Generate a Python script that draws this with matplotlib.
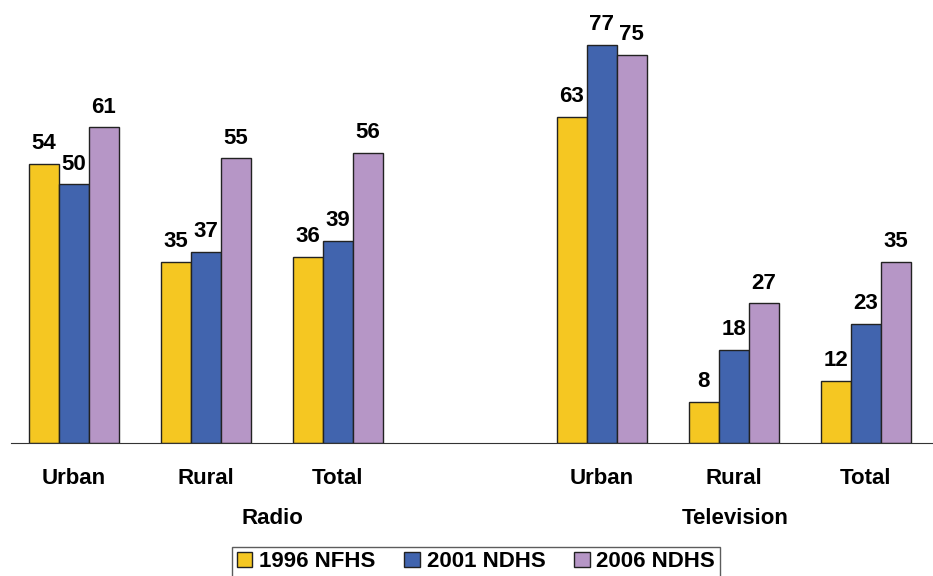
import numpy as np
import matplotlib.pyplot as plt

plt.rcParams['font.family'] = ['Liberation Sans', 'DejaVu Sans']
plt.rcParams['font.weight'] = 'bold'

groups = ['Urban', 'Rural', 'Total', 'Urban', 'Rural', 'Total']
series = ['1996 NFHS', '2001 NDHS', '2006 NDHS']
nfhs_1996 = [54, 35, 36, 63, 8, 12]
ndhs_2001 = [50, 37, 39, 77, 18, 23]
ndhs_2006 = [61, 55, 56, 75, 27, 35]
colors = ['#F5C722', '#4164AE', '#B696C6']

pos = np.array([0, 1, 2, 4, 5, 6])
w = 0.227

fig = plt.figure(figsize=(9.33, 5.76), dpi=100)
ax = fig.add_axes([11/933, 1 - 443/576, 1 - 11/933, (443 - 29)/576])

for i, vals in enumerate([nfhs_1996, ndhs_2001, ndhs_2006]):
    x = pos + (i - 1) * w
    ax.bar(x, vals, w, color=colors[i], edgecolor='#222222', linewidth=1, label=series[i])
    for xx, v in zip(x, vals):
        ax.annotate(str(v), (xx, v), xytext=(0, 7), textcoords='offset points',
                    ha='center', va='bottom', fontsize=16, fontweight='bold')

ax.set_xlim(-0.477, 6.51)
ax.set_ylim(0, 80)
for s in ['top', 'right', 'left']:
    ax.spines[s].set_visible(False)
ax.spines['bottom'].set_color('#333333')
ax.set_yticks([])
ax.set_xticks(pos)
ax.set_xticklabels(groups, fontsize=16, fontweight='bold')
ax.tick_params(axis='x', length=0, pad=18)

fig.text(272/933, 1 - 519/576, 'Radio', ha='center', va='center', fontsize=16, fontweight='bold')
fig.text(735/933, 1 - 519/576, 'Television', ha='center', va='center', fontsize=16, fontweight='bold')

leg = fig.legend(loc='upper center', bbox_to_anchor=(476/933, 1 - 547/576), ncol=3,
                 fontsize=16, frameon=True, fancybox=False, handlelength=0.7, handleheight=0.7,
                 handletextpad=0.3, columnspacing=1.3, borderpad=0.2, borderaxespad=0)
leg.get_frame().set_edgecolor('#333333')
leg.get_frame().set_linewidth(1)

fig.savefig('out.png', dpi=100)
